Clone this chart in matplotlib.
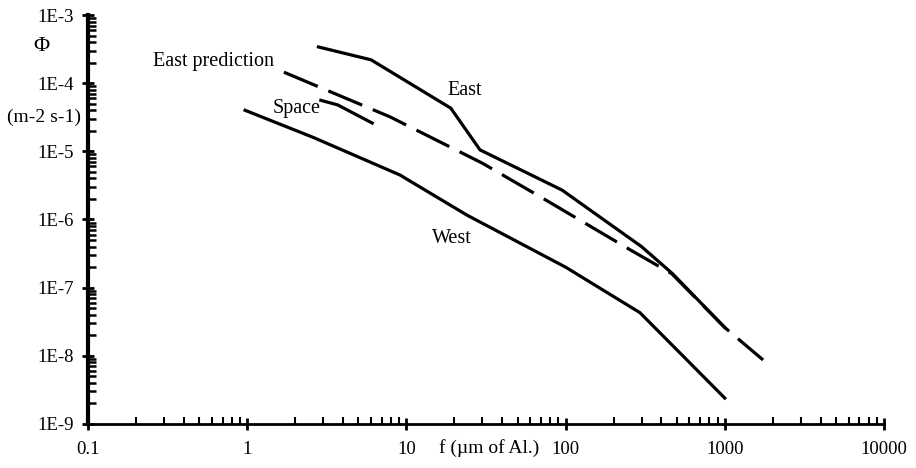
import numpy as np
import matplotlib
matplotlib.use("Agg")
import matplotlib.pyplot as plt
from matplotlib.ticker import LogLocator, FixedLocator, NullFormatter

plt.rcParams['font.family'] = ['Liberation Serif', 'DejaVu Serif']

# flux curves: f in um of Al, phi in m-2 s-1
east_f = [2.8, 6, 19, 29, 95, 300, 470, 1000]
east_phi = [3.4e-4, 2.2e-4, 4.3e-5, 1.05e-5, 2.7e-6, 4.0e-7, 1.6e-7, 2.6e-8]

pred_f = [1.7, 7.9, 30, 76, 254, 465, 1000, 1740]
pred_phi = [1.45e-4, 3.2e-5, 6.7e-6, 1.9e-6, 3.6e-7, 1.6e-7, 2.6e-8, 8.7e-9]

space_f = [2.9, 3.7, 6.1]
space_phi = [5.6e-5, 4.8e-5, 2.6e-5]

west_f = [0.97, 2.6, 9.1, 24, 100, 293, 1000]
west_phi = [4.0e-5, 1.6e-5, 4.5e-6, 1.16e-6, 2.0e-7, 4.3e-8, 2.4e-9]

x_ticks = [0.1, 1, 10, 100, 1000, 10000]
x_tick_labels = ["0.1", "1", "10", "100", "1000", "10000"]
y_ticks = [1e-9, 1e-8, 1e-7, 1e-6, 1e-5, 1e-4, 1e-3]
y_tick_labels = ["1E-9", "1E-8", "1E-7", "1E-6", "1E-5", "1E-4", "1E-3"]

fig = plt.figure(figsize=(9.16, 4.68), dpi=100)
ax = fig.add_axes([88/916, 1-424/468, (884-88)/916, (424-15)/468])

lw = 2.3
ax.plot(east_f, east_phi, color='black', lw=lw, solid_joinstyle='round')
ax.plot(pred_f, pred_phi, color='black', lw=lw, ls=(0, (11.5, 3.6)))
ax.plot(space_f, space_phi, color='black', lw=lw)
ax.plot(west_f, west_phi, color='black', lw=lw)

ax.set_xscale('log')
ax.set_yscale('log')
ax.set_xlim(0.1, 10000)
ax.set_ylim(1e-9, 1e-3)

for s in ['top', 'right']:
    ax.spines[s].set_visible(False)
ax.spines['left'].set_linewidth(3)
ax.spines['bottom'].set_linewidth(2)

ax.xaxis.set_major_locator(FixedLocator(x_ticks))
ax.set_xticklabels(x_tick_labels)
ax.yaxis.set_major_locator(FixedLocator(y_ticks))
ax.set_yticklabels(y_tick_labels)
ax.xaxis.set_minor_locator(LogLocator(base=10, subs=np.arange(2, 10), numticks=20))
ax.yaxis.set_minor_locator(LogLocator(base=10, subs=np.arange(2, 10), numticks=20))
ax.xaxis.set_minor_formatter(NullFormatter())
ax.yaxis.set_minor_formatter(NullFormatter())

ax.tick_params(axis='both', which='major', direction='inout', length=9, width=2,
               labelsize=13.5, color='black')
ax.tick_params(axis='y', which='minor', direction='in', length=6, width=1.8)
ax.tick_params(axis='x', which='minor', direction='in', length=5, width=1.5)
ax.tick_params(axis='y', which='major', pad=6)
ax.tick_params(axis='x', which='major', pad=8)

# curve labels
ax.text(0.256, 2.1e-4, "East prediction", fontsize=14.5, va='center', ha='left')
ax.text(1.45, 4.3e-5, "Space", fontsize=14.5, va='center', ha='left')
ax.text(18, 7.9e-5, "East", fontsize=14.5, va='center', ha='left')
ax.text(14.5, 5.3e-7, "West", fontsize=14.5, va='center', ha='left')

# axis titles placed like the original
ax.text(-0.059, 0.922, "\u03a6", fontsize=16, transform=ax.transAxes,
        ha='center', va='center')
ax.text(-0.055, 0.75, "(m-2 s-1)", fontsize=14, transform=ax.transAxes,
        ha='center', va='center')
ax.text(33, -0.058, "f (\u00b5m of Al.)", fontsize=14,
        transform=ax.get_xaxis_transform(), ha='center', va='center')

fig.savefig("out.png", dpi=100)
